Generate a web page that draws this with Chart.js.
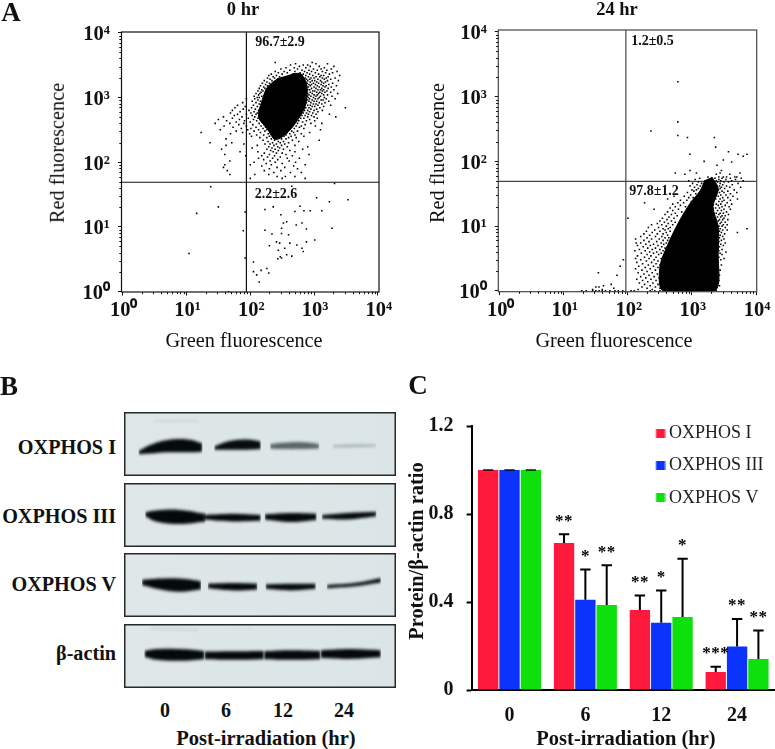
<!DOCTYPE html>
<html><head><meta charset="utf-8">
<script src="https://cdn.jsdelivr.net/npm/chart.js@4"></script>
<style>
html,body{margin:0;padding:0;background:#fff;width:775px;height:749px;overflow:hidden}
canvas{position:absolute;display:block}
.t{position:absolute;font-family:"Liberation Serif",serif;color:#111;white-space:nowrap;transform:translate(-50%,-50%);line-height:1}
.b{font-weight:bold}
.r{transform:translate(-50%,-50%) rotate(-90deg)}
.e{transform:translate(-100%,-50%)}
</style></head><body>
<script>
// ---------- Panel A: flow cytometry (values are log10 of fluorescence)
const powers = [1,10,100,1000,10000];
const powerLabels = ['10\u2070','10\u00b9','10\u00b2','10\u00b3','10\u2074'];
const minorDecadeSteps = [2,3,4,5,6,7,8,9];
const gate0 = {green:87, red:49};
const gate24 = {green:93, red:49};
const core0 = [[2.675,3.37],[2.8,3.36],[2.89,3.17],[2.86,2.861],[2.72,2.62],[2.555,2.43],[2.39,2.35],[2.27,2.51],[2.13,2.7],[2.19,2.97],[2.27,3.16],[2.44,3.3]];
const rows0 = [
[3.54,[2.39,2.97]],[3.52,[2.71,3.03,3.21]],[3.5,[2.63,2.83,2.9]],[3.48,[2.77,2.94,3.08,3.31]],[3.46,[2.56,2.69,2.87,3.16]],
[3.44,[2.48,2.74,2.99,3.11,3.27]],[3.42,[2.62,2.81,2.92,3.05,3.2]],[3.4,[2.39,2.53,2.7,2.85,2.96,3.13,3.36]],[3.38,[2.44,2.58,2.78,2.89,3.02,3.18,3.29]],
[3.36,[2.33,2.5,2.67,2.83,2.93,3.07,3.24]],[3.34,[2.29,2.41,2.87,2.98,3.11,3.15,3.4]],[3.32,[2.36,2.46,2.91,3.03,3.09,3.22]],[3.3,[2.27,2.38,2.86,2.95,3,3.13,3.19,3.33]],
[3.28,[2.31,2.88,2.93,3.06,3.16,3.26]],[3.26,[2.22,2.34,2.9,2.97,3.01,3.1,3.21,3.38]],[3.24,[2.26,2.87,2.94,3.04,3.12,3.18]],[3.22,[2.19,2.3,2.89,2.99,3.07,3.15,3.29]],
[3.2,[2.24,2.92,2.96,3.02,3.11,3.23]],[3.18,[2.16,2.27,2.88,2.94,3.05,3.14,3.19,3.35]],[3.16,[2.21,2.91,3,3.08,3.17,3.27]],[3.14,[2.14,2.23,2.86,2.96,3.03,3.12,3.22]],
[3.12,[2.18,2.9,2.93,3.06,3.1,3.15,3.31]],[3.1,[2.12,2.2,2.88,2.98,3.01,3.13,3.2]],[3.08,[2.17,2.85,2.94,3.04,3.09,3.17,3.26]],[3.06,[2.09,2.15,2.9,2.97,3.07,3.12,3.37]],
[3.04,[2.13,2.86,2.92,3,3.05,3.15,3.21]],[3.02,[2.06,2.18,2.89,2.95,3.03,3.1,3.28]],[3,[2.11,2.14,2.84,2.91,2.99,3.08,3.16]],[2.98,[1.94,2.07,2.87,2.93,3.02,3.06,3.19,3.33]],
[2.96,[2.12,2.85,2.9,2.97,3.11,3.14]],[2.94,[2.03,2.16,2.83,2.92,3,3.04,3.23]],[2.92,[1.88,2.09,2.88,2.95,3.08,3.17]],[2.9,[2.14,2.82,2.86,2.99,3.03,3.12]],
[2.88,[1.8,2.05,2.9,2.94,3.06,3.26]],[2.86,[1.92,2.11,2.84,2.97,3.01,3.15]],[2.84,[1.76,2.02,2.87,2.92,3.09,3.49]],[2.82,[1.89,2.08,2.81,2.95,3.04]],
[2.8,[1.72,1.98,2.13,2.85,2.9,3,3.13]],[2.78,[1.84,2.06,2.79,2.93,3.06]],[2.76,[1.69,2.01,2.11,2.83,2.88,2.98]],[2.74,[1.8,1.94,2.09,2.77,2.91,3.03,3.24]],
[2.72,[1.75,2.03,2.14,2.81,2.86,2.96]],[2.7,[1.58,1.87,2.07,2.75,2.9,3,3.34]],[2.68,[1.72,1.97,2.12,2.79,2.84,3.05]],[2.66,[1.5,1.83,2.05,2.16,2.72,2.93]],
[2.64,[1.63,1.91,2.1,2.76,2.88,3.01]],[2.62,[1.78,2,2.19,2.7,2.82]],[2.6,[1.45,1.68,1.9,2.14,2.74,2.95,3.12]],[2.58,[1.82,2.04,2.22,2.67,2.86]],
[2.56,[1.59,1.94,2.17,2.72,2.8,3.02]],[2.54,[1.73,2.09,2.24,2.63,2.77]],[2.52,[1.86,2.01,2.2,2.69,2.84]],[2.5,[1.53,1.96,2.13,2.26,2.6,3.1]],
[2.48,[1.78,2.06,2.23,2.65,2.74]],[2.46,[1.23,1.88,2.16,2.58,2.68,2.93]],[2.44,[1.69,1.99,2.28,2.62,2.8]],[2.42,[2.1,2.21,2.56,2.7]],
[2.4,[2.02,2.3,2.53,2.64,2.84]],[2.38,[2.15,2.26,2.6,2.72]],[2.36,[1.62,2.33,2.49,2.56]],[2.34,[2.2,2.38,2.66,3.08]],[2.32,[2.28,2.44,2.52,2.76]],
[2.3,[1.37,1.71,2.35,2.47,2.6]],[2.28,[1.9,2.23,2.31,2.41,2.54]],[2.26,[1.62,2.11,2.37,2.49,2.7]],[2.24,[2.29,2.43,2.58,2.9]],[2.22,[2.03,2.34,2.46]],
[2.2,[1.55,2.26,2.39,2.52,2.82]],[2.18,[2.32,2.44,2.62]],[2.16,[1.84,2.12,2.36,2.7]],[2.14,[2.22,2.41,2.5]],[2.12,[1.6,2.3,2.56,2.92]],
[2.1,[1.93,2.18,2.38,2.66]],[2.08,[2.27,2.47]],[2.06,[2.13,2.35,2.58,2.77]],[2.04,[2.21,2.43]],[2.02,[1.68,2.31,2.61]],[2,[2.06,2.39,2.71]],
[1.98,[2.25,2.5]],[1.96,[1.6,2,2.33,2.86]],[1.94,[2.18,2.68]],[1.92,[1.58,2.42,2.54]],[1.9,[2.3,2.74]],[1.87,[1.64,2.22,2.48]],[1.84,[2.37,2.63,2.8]],
[1.81,[1.68,2.07,2.29]],[1.78,[2.42,2.55,2.7]],[1.75,[2,2.5,2.86]],
[1.67,[3.32]],[1.63,[2.65]],[1.62,[1.38]],[1.45,[3.04]],[1.42,[3.53]],[1.39,[3.24]],[1.32,[2.78]],[1.31,[1.5,2.36]],[1.27,[2.23]],
[1.25,[2.84,2.94,3.12]],[1.24,[2.7]],[1.23,[1.92]],[1.21,[1.16]],[1.19,[2.48]],[1.08,[2.57]],[1.06,[2.52,2.81]],[1.03,[2.72]],
[0.98,[3.28,2.49]],[0.97,[2.88]],[0.95,[2.23]],[0.94,[1.89]],[0.9,[2.49]],[0.89,[2.34]],[0.88,[2.6]],[0.8,[3.01]],[0.77,[2.88,2.41]],
[0.75,[2.46,2.62]],[0.72,[2.73]],[0.71,[2.3]],[0.67,[2.54,2.81]],[0.64,[2.44]],[0.62,[2.83]],[0.59,[1.04]],[0.57,[2.57]],[0.55,[2.65]],
[0.54,[2.47]],[0.52,[1.92,2.49]],[0.51,[2.43]],[0.46,[2.05]],[0.36,[2.26]],[0.33,[2.17]],[0.31,[2.05]],[0.29,[2.29]],[0.26,[2.1]],[0.15,[2.14]],[0,[1.66]]];
const core24 = [[3.31,1.76],[3.41,1.58],[3.33,1.3],[3.41,0.99],[3.41,0.58],[3.36,0],[2.55,0],[2.5,0.37],[2.63,0.73],[2.81,1.09],[2.97,1.35],[3.13,1.55],[3.2,1.71]];
const rows24 = [
[3.23,[2.78]],[2.61,[2.78]],[2.47,[2.36]],[2.4,[2.78]],[2.37,[2.93,3.35]],[2.22,[3.37]],[2.15,[3.57]],[2.11,[2.97,3.72,3.86]],[2.08,[3.8]],
[2.02,[3.49]],[2,[3.19]],[1.99,[3.62]],[1.94,[3.39]],[1.86,[2.97,3.46]],[1.82,[2.74,3.07,3.44,3.75]],[1.8,[2.89,3.59,3.38]],[1.76,[3.42,3.49,3.54,3.67,3.7,3.25]],
[1.74,[3.12,3.36,3.47,3.6,3.77]],[1.72,[3.05,3.42,3.53,3.68]],[1.7,[2.95,3.38,3.45,3.62,3.8]],[1.68,[3.1,3.4,3.5,3.57]],[1.66,[3.01,3.15,3.44,3.72]],
[1.64,[3.08,3.37,3.48,3.63]],[1.62,[2.97,3.13,3.43,3.54]],[1.6,[3.04,3.39,3.46,3.59,3.76]],[1.58,[3.1,3.44,3.51]],[1.56,[3,3.07,3.41,3.66]],[1.54,[3.03,3.47,3.56]],
[1.52,[2.93,3.43,3.5,3.7]],[1.5,[3.06,3.38,3.6]],[1.48,[2.98,3.45,3.53]],[1.46,[2.72,2.88,3.41,3.64]],[1.44,[2.95,3.02,3.48,3.56]],[1.42,[2.62,3.37,3.44,3.71]],
[1.4,[2.82,2.92,3.5,3.6]],[1.38,[2.99,3.42,3.47]],[1.36,[2.26,2.78,2.87,3.55]],[1.34,[2.7,3.38,3.45,3.62]],[1.32,[2.82,3.41,3.52]],[1.3,[2.74,2.9,3.47,3.58]],
[1.28,[2.66,3.37,3.43]],[1.26,[2.41,2.79,3.5,3.6]],[1.24,[2.7,3.4,3.46]],[1.22,[2.62,2.84,3.54]],[1.2,[2.74,3.38,3.44,3.49]],[1.18,[2.58,2.68,3.42,3.57]],
[1.16,[2.77,3.47,3.52]],[1.14,[2.64,3.4,3.45]],[1.12,[2,2.54,2.72,3.5]],[1.1,[2.61,3.43,3.48,3.56]],[1.08,[2.5,2.68,3.41]],[1.06,[2.57,2.74,3.46,3.52]],
[1.04,[2.46,2.63,3.44]],[1.02,[2.37,2.53,2.7,3.49,3.55]],[1,[2.6,3.42,3.47]],[0.98,[2.32,2.48,2.66,3.52]],[0.96,[2.55,2.63,3.44,3.86]],[0.94,[2.42,2.58,3.48,3.55]],
[0.92,[2.29,2.5,2.66,3.43]],[0.9,[2.38,2.6,3.46,3.71]],[0.88,[2.25,2.46,2.55,3.51]],[0.86,[2.34,2.62,3.44]],[0.84,[2.2,2.43,2.53,3.48]],[0.82,[2.3,2.58,2.64,3.43]],
[0.8,[2.12,2.37,2.49,3.5]],[0.78,[2.25,2.55,2.62,3.46]],[0.76,[2.33,2.45,3.42]],[0.74,[2.13,2.2,2.52,2.6,3.52]],[0.72,[2.28,2.4,2.56,3.45]],[0.7,[2.15,2.35,2.47,3.49]],
[0.68,[2.24,2.53,2.62,3.43]],[0.66,[2.31,2.43,2.58]],[0.64,[2.18,2.38,2.5,3.47]],[0.62,[2.11,2.27,2.55,3.42]],[0.6,[2.34,2.45,2.6,3.53]],[0.58,[2.21,2.4,2.52,3.44]],
[0.56,[2.3,2.48,3.47]],[0.54,[2.15,2.36,2.56,2.62]],[0.52,[2.26,2.44,3.42]],[0.5,[2.12,2.33,2.52,3.5]],[0.48,[1.93,2.2,2.41,2.58,3.45]],[0.46,[2.29,2.47]],
[0.44,[2.14,2.37,2.55,3.4]],[0.42,[2.23,2.44,2.6]],[0.4,[2.32,2.5,3.46]],[0.38,[1.88,2.17,2.4,2.57]],[0.36,[2.27,2.47,3.4]],[0.34,[2.12,2.35,2.53]],
[0.32,[2.22,2.43,3.44]],[0.3,[2.3,2.5,2.6]],[0.28,[1.54,2.16,2.38,3.38]],[0.26,[2.25,2.46,2.56]],[0.24,[1.83,2.33,2.52,3.43]],[0.22,[2.2,2.41,2.61]],
[0.2,[2.28,2.49,3.38]],[0.18,[2.14,2.36,2.55]],[0.16,[2.23,2.44,3.42]],[0.14,[2.31,2.52,2.62]],[0.12,[2.18,2.39,2.58,3.37]],[0.1,[1.74,2.26,2.47]],
[0.08,[1.62,2.35,2.55,3.43]],[0.06,[1.5,1.55,2.22,2.43,2.62]],[0.04,[1.78,2.3,2.5,3.37]],[0.02,[1.45,1.6,2.16,2.38,2.58]],
[0,[1.28,1.35,1.45,1.5,1.55,1.6,1.65,1.72,1.8,1.85,1.92,2.05,2.1,2.35,2.42,2.5,2.58,3.38]]];
const holes24 = [[1.1,[3.1,3.25]],[0.9,[3,3.2]],[0.8,[3.1]],[0.7,[2.9,3.3]],[0.6,[2.85,2.6]],[0.5,[2.8,3.05,2.62]],[0.4,[2.9,3,3.25]],[0.3,[2.75,2.95,2.62]],[0.2,[2.85,3.1,3.2,2.66]],[0.1,[2.95,3.1,2.7]],[0.05,[2.8,3.05,3.25]]];

// ---------- Panel B: band outlines per lane, [lane position, upper edge, lower edge]
const lanes = ['0','6','12','24'];
const blotNames = ['OXPHOS I','OXPHOS III','OXPHOS V','\u03b2-actin'];
const blotI = [
 [[5.5,39,34],[10,49,35],[16,56,37],[24,57,37],[29.5,51,38]],
 [[34,46,41],[39,54,41],[46.5,57,41],[51.5,54,42]],
 [[55,50,43],[60,52,42],[66.5,53,42],[73.5,50,43]],
 [[78.5,48,45],[86,49,45],[95,49,46]],
 [[11,87,85],[17,87,85],[28,87,85]]];
const blotIshades = ['#050a0c','#060b0d','rgba(55,70,75,.8)','rgba(120,135,140,.6)','rgba(130,145,150,.3)'];
const blotIII = [
 [[8,54,48],[12,57,40],[21,58,36],[30.7,52,40]],
 [[30,50,43],[41,52,40],[51.5,50,41]],
 [[53,51,43],[63,53,39],[72.5,52,42]],
 [[74.5,50,44],[84,53,43],[95,55,48]]];
const blotV = [
 [[6.8,58,50],[13.7,60,43],[21,60,39.5],[29,56,43]],
 [[31.6,52,45],[41.4,53,41.5],[50.2,52,43]],
 [[53.3,51,44],[62.8,52,41.5],[72.2,52,44]],
 [[76.4,50,45],[86.7,53,48],[96.7,61,54]]];
const blotActin = [
 [[7.7,58,49],[12.4,61,44],[21,61,42.5],[30.3,58,45]],
 [[30.3,57,45],[41.4,57.5,44],[52.7,58,45]],
 [[52.7,57.5,45],[62.8,59,44],[74,58,45]],
 [[74,59,47],[85,61,45.5],[96.7,59,48]],
 [[10,94,92],[20,93,91],[28,92,90]],
 [[40,93,92],[49,94,93]]];
const darkShades = ['#05090b','#05090b','#05090b','#05090b','rgba(130,145,150,.35)','rgba(130,145,150,.2)'];

// ---------- Panel C: protein / beta-actin ratio
const hours = ['0','6','12','24'];
const seriesNames = ['OXPHOS I','OXPHOS III','OXPHOS V'];
const seriesColors = ['#fe1a3c','#0c33fb','#0ee00c'];
const oxphos1 = [1,0.668,0.364,0.082];
const oxphos3 = [1,0.41,0.306,0.198];
const oxphos5 = [1,0.386,0.332,0.141];
const errTop1 = [1,0.708,0.43,0.106];
const errTop3 = [1,0.548,0.452,0.323];
const errTop5 = [1,0.567,0.597,0.27];
const stars1 = ['','**','**','***'];
const stars3 = ['','*','*','**'];
const stars5 = ['','**','*','**'];

const FONT='"Liberation Serif",serif';
function text(s,x,y,size,cls){const d=document.createElement('div');d.className='t '+(cls||'');d.textContent=s;d.style.left=x+'px';d.style.top=y+'px';d.style.fontSize=size+'px';document.body.appendChild(d);return d;}
function mk(l,t,w,h){const c=document.createElement('canvas');c.width=w;c.height=h;c.style.left=l+'px';c.style.top=t+'px';c.style.width=w+'px';c.style.height=h+'px';document.body.appendChild(c);return c;}
const fromLog=a=>a.map(p=>({x:Math.pow(10,p[0]),y:Math.pow(10,p[1])}));
const fromRows=rows=>rows.flatMap(r=>r[1].map(x=>({x:Math.pow(10,x),y:Math.pow(10,r[0])})));

function flowChart(box,area,lim,core,rows,holes,gate,lineColor){
 const cv=mk(box.l,box.t,box.w,box.h);
 const frame={id:'frame',afterDatasetsDraw(ch){const a=ch.chartArea,c=ch.ctx;c.save();c.strokeStyle=lineColor;c.lineWidth=1.2;c.strokeRect(a.left,a.top,a.width,a.height);
   c.lineWidth=1;c.strokeStyle='#111';
   const xs=ch.scales.x,ys=ch.scales.y;
   powers.slice(0,4).forEach(p=>minorDecadeSteps.forEach(m=>{const v=p*m;
     const px=Math.round(xs.getPixelForValue(v))+.5,py=Math.round(ys.getPixelForValue(v))+.5;
     c.beginPath();c.moveTo(px,a.bottom);c.lineTo(px,a.bottom+2.2);c.moveTo(a.left,py);c.lineTo(a.left-2.2,py);c.stroke();}));
   c.restore();}};
 const sq=(data,color,r)=>({data,showLine:false,pointStyle:'rect',pointRadius:r,pointBorderWidth:0,pointBackgroundColor:color});
 const ds=[
  {data:fromLog(core),showLine:true,fill:'shape',backgroundColor:'#000',borderColor:'#000',borderWidth:1,pointRadius:0,tension:0.3},
  sq(fromRows(rows),'#000',1.1)];
 if(holes) ds.push(sq(fromRows(holes),'#fff',0.9));
 ds.push({data:[{x:gate.green,y:lim.y0},{x:gate.green,y:lim.y1}],showLine:true,borderColor:lineColor,borderWidth:1.2,pointRadius:0});
 ds.push({data:[{x:lim.x0,y:gate.red},{x:lim.x1,y:gate.red}],showLine:true,borderColor:lineColor,borderWidth:1.2,pointRadius:0});
 const axis=(min,max,dim)=>({type:'logarithmic',min,max,
   afterBuildTicks:s=>{s.ticks=powers.map(v=>({value:v}));},
   afterFit:s=>{s.paddingLeft=s.paddingRight=s.paddingTop=s.paddingBottom=0;if(dim.w)s.width=dim.w;else s.height=dim.h;},
   grid:{drawOnChartArea:false,drawTicks:true,tickLength:3.5,tickColor:'#111',tickWidth:1},
   border:{display:false},
   ticks:{autoSkip:false,maxRotation:0,color:'#111',font:{family:FONT,size:20.5,weight:'bold'},padding:dim.w?8:3,labelOffset:dim.w?2:1,
     callback:v=>powerLabels[powers.indexOf(v)]}});
 new Chart(cv,{type:'scatter',data:{datasets:ds},plugins:[frame],options:{responsive:false,animation:false,
   layout:{padding:{top:area.top,right:box.w-area.right,left:0,bottom:0}},
   plugins:{legend:{display:false},tooltip:{enabled:false}},
   scales:{x:axis(lim.x0,lim.x1,{h:box.h-area.bottom}),y:axis(lim.y0,lim.y1,{w:area.left})}}});
}
flowChart({l:0,t:0,w:405,h:360},{left:121.5,right:379,top:32,bottom:292},{x0:0.96,x1:10400,y0:0.99,y1:10250},core0,rows0,null,gate0,'#111');
flowChart({l:390,t:0,w:385,h:360},{left:108.3,right:366.7,top:30,bottom:291.7},{x0:0.95,x1:10250,y0:0.97,y1:10700},core24,rows24,holes24,gate24,'#444');

// Blots
function blot(top,bands,shades){
 const cv=mk(123.5,top,272,64);
 const ds=[];
 bands.forEach((b,i)=>{
  ds.push({data:b.map(r=>({x:r[0],y:r[1]})),fill:'+1',backgroundColor:shades[i],borderWidth:0,pointRadius:0,tension:0.4});
  ds.push({data:b.map(r=>({x:r[0],y:r[2]})),fill:false,borderWidth:0,pointRadius:0,tension:0.4});
 });
 const paper={id:'paper',
  beforeDatasetsDraw(ch){const a=ch.chartArea,c=ch.ctx;const g=c.createLinearGradient(a.left,0,a.right,0);g.addColorStop(0,'#dfe7e8');g.addColorStop(1,'#dbe5e7');c.fillStyle=g;c.fillRect(a.left,a.top,a.width,a.height);c.save();c.filter='blur(1.7px)';},
  afterDatasetsDraw(ch){const a=ch.chartArea,c=ch.ctx;c.restore();c.strokeStyle='#26292a';c.lineWidth=1.5;c.strokeRect(a.left+.75,a.top+.75,a.width-1.5,a.height-1.5);}};
 new Chart(cv,{type:'scatter',data:{datasets:ds.map(d=>Object.assign(d,{showLine:true}))},plugins:[paper],options:{responsive:false,animation:false,
  plugins:{legend:{display:false},tooltip:{enabled:false}},
  scales:{x:{type:'linear',display:false,min:0,max:102.4},y:{type:'linear',display:false,min:0,max:100}}}});
}
blot(412,blotI,blotIshades);
blot(483,blotIII,darkShades);
blot(553,blotV,darkShades);
blot(624,blotActin,darkShades);

// Bars
(function(){
 const cv=mk(400,370,375,379);
 const tops=[errTop1,errTop3,errTop5], stars=[stars1,stars3,stars5];
 const swatch=color=>{const s=document.createElement('canvas');s.width=20;s.height=9;const g=s.getContext('2d');g.fillStyle=color;g.fillRect(10.5,0,9,9);return s;};
 const swatches=seriesColors.map(swatch);
 const extras={id:'extras',afterDatasetsDraw(ch){const c=ch.ctx,y=ch.scales.y;c.save();c.strokeStyle='#000';
   tops.forEach((arr,d)=>{const m=ch.getDatasetMeta(d);arr.forEach((v,i)=>{
     const bar=m.data[i],x=bar.x,py=y.getPixelForValue(v),base=bar.y;
     c.lineWidth=i===0?1.4:2;c.beginPath();c.moveTo(x-5.2,py);c.lineTo(x+5.2,py);if(i>0){c.moveTo(x,py);c.lineTo(x,base);}c.stroke();
     if(stars[d][i]){c.fillStyle='#000';c.font='bold 17px '+FONT;c.textAlign='center';c.textBaseline='alphabetic';c.letterSpacing='0.5px';c.fillText(stars[d][i],x,py-8.5);}
   });});c.restore();}};
 const place={id:'place',afterLayout(ch){const l=ch.legend;l.left=251-l.options.labels.padding;l.top=40;}};
 new Chart(cv,{type:'bar',data:{labels:hours,datasets:[
   {label:seriesNames[0],data:oxphos1,backgroundColor:seriesColors[0]},
   {label:seriesNames[1],data:oxphos3,backgroundColor:seriesColors[1]},
   {label:seriesNames[2],data:oxphos5,backgroundColor:seriesColors[2]}]},
  plugins:[extras,place],
  options:{responsive:false,animation:false,
   layout:{padding:{top:56,right:0,left:0,bottom:0}},
   datasets:{bar:{categoryPercentage:0.844,barPercentage:0.953,borderWidth:0}},
   plugins:{tooltip:{enabled:false},legend:{display:true,position:'chartArea',align:'start',
     labels:{usePointStyle:true,boxWidth:9,boxHeight:9,padding:14.3,color:'#222',font:{family:FONT,size:18},
       generateLabels:ch=>Chart.defaults.plugins.legend.labels.generateLabels(ch).map((it,i)=>Object.assign(it,{pointStyle:swatches[i]}))}}},
   scales:{
    x:{grid:{display:false},border:{display:true,color:'#000',width:2},
       afterFit:s=>{s.height=59;s.paddingLeft=s.paddingRight=0;},
       ticks:{color:'#111',padding:6,maxRotation:0,font:{family:FONT,size:20,weight:'bold'}}},
    y:{min:0,max:1.2,
       afterBuildTicks:s=>{s.ticks=[0,0.4,0.8,1.2].map(v=>({value:v}));},
       afterFit:s=>{s.width=71.6;s.paddingTop=s.paddingBottom=0;},
       grid:{drawOnChartArea:false,drawTicks:true,tickLength:5,tickColor:'#000',tickWidth:2},
       border:{display:true,color:'#000',width:2},
       ticks:{color:'#111',padding:13,font:{family:FONT,size:20,weight:'bold'},callback:v=>String(v)}}}}});
})();

// Text
text('A',11,12,27,'b');text('B',9,386,27,'b');text('C',418,385,27,'b');
text('0 hr',243,9,18.5,'b');text('24 hr',617,9,18.5,'b');
text('Red fluorescence',57,153,20.3,'r');text('Red fluorescence',437,153,20.3,'r');
text('Green fluorescence',244,340,20.3);text('Green fluorescence',614,340,20.3);
text('96.7\u00b12.9',280,41.5,14,'b');text('2.2\u00b12.6',276,194,14,'b');
text('1.2\u00b10.5',652.5,40.5,14,'b');text('97.8\u00b11.2',654,191,14,'b');
[447,515.7,584,653].forEach((y,i)=>text(blotNames[i],116,y,20.2,'b e'));
[165,226,283,344].forEach((x,i)=>text(lanes[i],x,710,20,'b'));
text('Post-irradiation (hr)',266,738,20.5,'b');
text('Post-irradiation (hr)',626,738,20.5,'b');
text('Protein/\u03b2-actin ratio',416,551,20.4,'b r');
</script>
</body></html>
